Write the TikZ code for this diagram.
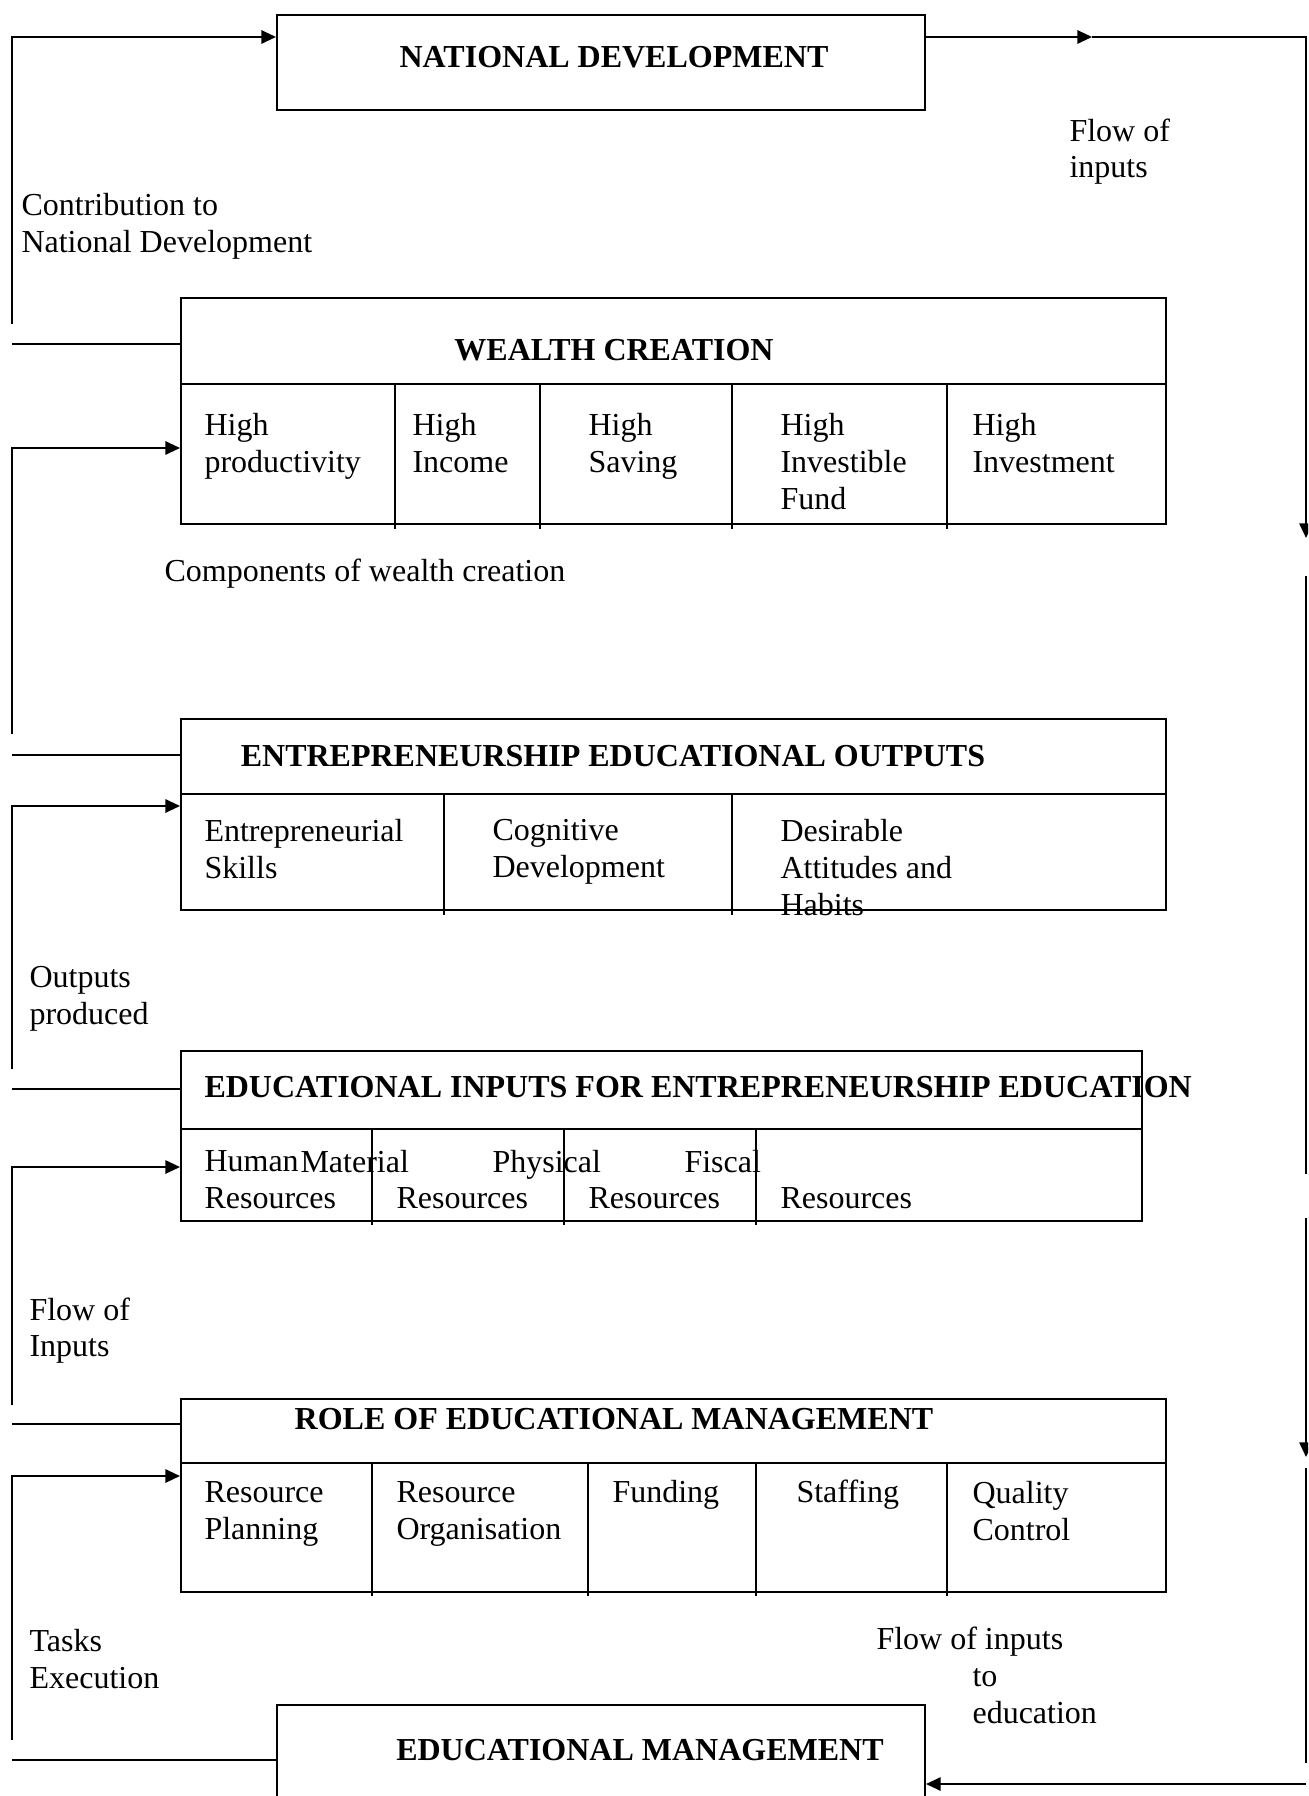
\documentclass[tikz,border=0pt]{standalone}
\usepackage{fontspec}
\setmainfont{Liberation Serif}
\usetikzlibrary{arrows.meta}
\tikzset{
  ln/.style={line width=0.75pt},
  arr/.style={ln, -{Triangle[length=5.5pt,width=5pt]}},
  txt/.style={anchor=north west, inner sep=0pt, font=\fontsize{12}{13.8}\selectfont, align=left, execute at begin node=\strut},
  ttl/.style={anchor=center, inner sep=0pt, font=\fontsize{12}{13.8}\selectfont\bfseries},
  boxs/.style={draw, line width=0.75pt, inner sep=0pt, anchor=north west},
}
\newcommand\pxbox[5]{\node[boxs, minimum width={(#4-#2)*0.375pt}, minimum height={(#5-#3)*0.375pt}] (#1) at (#2,#3) {};}
\begin{document}
\begin{tikzpicture}[x=0.375pt,y=-0.375pt]
\clip (0,0) rectangle (1308,1796);
% boxes
\pxbox{nd}{276}{14}{924}{109}
\pxbox{wc}{180}{297}{1165}{523}
\pxbox{eo}{180}{718}{1165}{909}
\pxbox{ei}{180}{1050}{1141}{1220}
\pxbox{rm}{180}{1398}{1165}{1591}
\pxbox{em}{276}{1704}{924}{1830}
% internal dividers
\draw[ln] (180,384) -- (1165,384);
\foreach \x in {395,540,732,947} \draw[ln] (\x,384) -- (\x,529);
\draw[ln] (180,794) -- (1165,794);
\foreach \x in {444,732} \draw[ln] (\x,794) -- (\x,915);
\draw[ln] (180,1129) -- (1141,1129);
\foreach \x in {372,564,756} \draw[ln] (\x,1129) -- (\x,1225);
\draw[ln] (180,1463) -- (1165,1463);
\foreach \x in {372,588,756,947} \draw[ln] (\x,1463) -- (\x,1596);
% titles
\node[ttl] (tnd) at (614,57) {NATIONAL DEVELOPMENT};
\node[ttl] (twc) at (614,350) {WEALTH CREATION};
\node[ttl] (teo) at (613,756) {ENTREPRENEURSHIP EDUCATIONAL OUTPUTS};
\node[ttl, anchor=west] (tei) at (204,1087) {EDUCATIONAL INPUTS FOR ENTREPRENEURSHIP EDUCATION};
\node[ttl] (trm) at (614,1419) {ROLE OF EDUCATIONAL MANAGEMENT};
\node[ttl] (tem) at (640,1750) {EDUCATIONAL MANAGEMENT};
% wealth cells
\node[txt] (w1) at (204,413) {High\\productivity};
\node[txt] (w2) at (412,413) {High\\Income};
\node[txt] (w3) at (588,413) {High\\Saving};
\node[txt] (w4) at (780,413) {High\\Investible\\Fund};
\node[txt] (w5) at (972,413) {High\\Investment};
% outputs cells
\node[txt] (o1) at (204,819) {Entrepreneurial\\Skills};
\node[txt] (o2) at (492,819) {Cognitive\\Development};
\node[txt] (o3) at (780,819) {Desirable\\Attitudes and\\Habits};
% inputs cells
\node[txt] (i1) at (204,1150) {Human\\Resources};
\node[txt] (i2) at (300,1146) {Material};
\node[txt] (i3) at (492,1146) {Physical};
\node[txt] (i4) at (684,1146) {Fiscal};
\node[txt] (i5) at (396,1182) {Resources};
\node[txt] (i6) at (588,1182) {Resources};
\node[txt] (i7) at (780,1182) {Resources};
% role cells
\node[txt] (r1) at (204,1481) {Resource\\Planning};
\node[txt] (r2) at (396,1481) {Resource\\Organisation};
\node[txt] (r3) at (612,1476) {Funding};
\node[txt] (r4) at (796,1476) {Staffing};
\node[txt] (r5) at (972,1481) {Quality\\Control};
% labels
\node[txt] (lc) at (21,193) {Contribution to\\National Development};
\node[txt] (lf) at (1069,118) {Flow of\\inputs};
\node[txt] (lw) at (164,555) {Components of wealth creation};
\node[txt] (lo) at (29,966) {Outputs\\produced};
\node[txt] (li) at (29,1297) {Flow of\\Inputs};
\node[txt] (lt) at (29,1629) {Tasks\\Execution};
\node[txt] (lb1) at (876,1623) {Flow of inputs};
\node[txt] (lb2) at (972,1668) {to\\education};
% left loops
\coordinate (L1t) at (12,37);   \coordinate (L1a) at (12,324);  \coordinate (L1b) at (12,344);
\coordinate (L2t) at (12,448);  \coordinate (L2a) at (12,734);  \coordinate (L2b) at (12,755);
\coordinate (L3t) at (12,806);  \coordinate (L3a) at (12,1069); \coordinate (L3b) at (12,1089);
\coordinate (L4t) at (12,1167); \coordinate (L4a) at (12,1405); \coordinate (L4b) at (12,1424);
\coordinate (L5t) at (12,1476); \coordinate (L5a) at (12,1740); \coordinate (L5b) at (12,1760);
\draw[arr] (L1a) -- (L1t) -- (L1t -| nd.west);
\draw[ln] (L1b) -- (L1b -| wc.west);
\draw[arr] (L2a) -- (L2t) -- (L2t -| wc.west);
\draw[ln] (L2b) -- (L2b -| eo.west);
\draw[arr] (L3a) -- (L3t) -- (L3t -| eo.west);
\draw[ln] (L3b) -- (L3b -| ei.west);
\draw[arr] (L4a) -- (L4t) -- (L4t -| ei.west);
\draw[ln] (L4b) -- (L4b -| rm.west);
\draw[arr] (L5a) -- (L5t) -- (L5t -| rm.west);
\draw[ln] (L5b) -- (L5b -| em.west);
% right side
\coordinate (R0) at (1092,37);
\coordinate (R1) at (1306,37);
\coordinate (R2) at (1306,538);
\coordinate (R3) at (1306,576);
\coordinate (R4) at (1306,1174);
\coordinate (R5) at (1306,1218);
\coordinate (R6) at (1306,1457);
\coordinate (R7) at (1306,1468);
\coordinate (R8) at (1306,1763);
\coordinate (R9) at (1306,1784);
\draw[arr] (R0 -| nd.east) -- (R0);
\draw[arr] (R0) -- (R1) -- (R2);
\draw[ln] (R3) -- (R4);
\draw[arr] (R5) -- (R6);
\draw[ln] (R7) -- (R8);
\draw[arr] (R9) -- (R9 -| em.east);
\end{tikzpicture}
\end{document}
